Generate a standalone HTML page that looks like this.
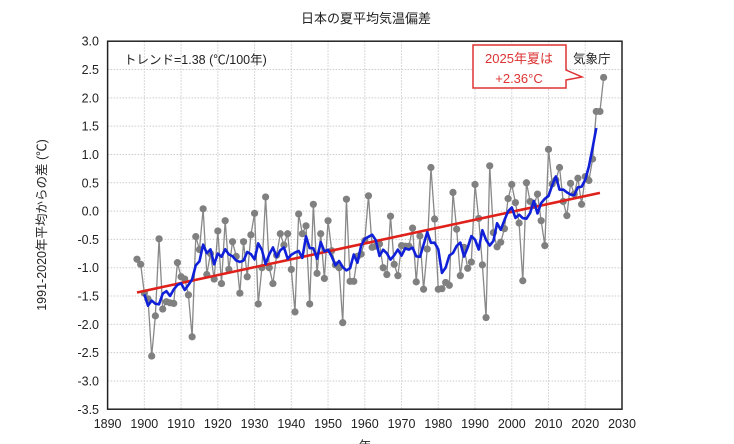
<!DOCTYPE html>
<html><head><meta charset="utf-8">
<style>
html,body{margin:0;padding:0;background:#fff;}
svg{display:block;font-family:"Liberation Sans","Noto Sans CJK JP",sans-serif;}
</style></head>
<body>
<svg id="chart" width="734" height="444" viewBox="0 0 734 444" xmlns="http://www.w3.org/2000/svg">
<text x="366" y="23" font-size="13" text-anchor="middle" fill="#222">日本の夏平均気温偏差</text>
<g id="grid"></g>
<g id="axes"></g>
<g id="marks"></g>
<rect x="107.6" y="41.2" width="514.4" height="368" fill="none" stroke="#222" stroke-width="1.5"/>
<text x="124" y="64" font-size="12.5" fill="#222">トレンド=1.38 (℃/100年)</text>
<g>
<path d="M473,45 H566 V70 L582,77 L566,80 V88 H473 Z" fill="#fff" stroke="#d33" stroke-width="1.5"/>
<text x="519" y="63" font-size="13" fill="#d33" text-anchor="middle">2025年夏は</text>
<text x="519" y="83" font-size="13" fill="#d33" text-anchor="middle">+2.36°C</text>
</g>
<text x="573" y="63" font-size="12.5" fill="#222">気象庁</text>
<text transform="translate(46,225) rotate(-90)" font-size="12.5" text-anchor="middle" fill="#222">1991-2020年平均からの差 (℃)</text>
<text x="365" y="450" font-size="12.5" text-anchor="middle" fill="#222">年</text>
</svg>
<script>
const startYear = 1898;
const anomalies = [-0.85,-0.94,-1.45,-1.55,-2.56,-1.85,-0.49,-1.73,-1.60,-1.62,-1.63,-0.91,-1.16,-1.20,-1.48,-2.22,-0.45,-0.68,0.04,-1.12,-0.75,-1.20,-0.35,-1.28,-0.17,-1.03,-0.54,-0.80,-1.45,-0.54,-1.16,-0.42,-0.04,-1.64,-1.00,0.25,-1.00,-1.28,-0.78,-0.40,-0.60,-0.40,-1.03,-1.78,-0.05,-0.40,-0.26,-1.64,0.12,-1.10,-0.40,-1.19,-0.17,-0.70,-0.95,-1.00,-1.97,0.21,-1.24,-1.24,-0.80,-0.76,-0.52,0.27,-0.64,-0.62,-0.58,-1.00,-1.12,-0.09,-0.94,-1.14,-0.61,-0.62,-0.62,-0.30,-1.25,-0.44,-1.38,-0.67,0.77,-0.14,-1.38,-1.37,-1.26,-1.31,0.33,-0.32,-1.14,-0.64,-1.01,-0.90,0.47,-0.13,-0.95,-1.88,0.80,-0.38,-0.63,-0.55,-0.31,0.22,0.47,0.15,-0.21,-1.23,0.50,0.17,0.10,0.30,-0.17,-0.61,1.09,0.48,0.55,0.77,0.17,-0.08,0.49,0.30,0.58,0.12,0.61,0.54,0.92,1.76,1.76,2.36];
const xTicks = [1890,1900,1910,1920,1930,1940,1950,1960,1970,1980,1990,2000,2010,2020,2030];
const yTicks = [3.0,2.5,2.0,1.5,1.0,0.5,0.0,-0.5,-1.0,-1.5,-2.0,-2.5,-3.0,-3.5];

const NS="http://www.w3.org/2000/svg";
const X0=107.6,X1=622,Y0=41.2,Y1=409.3;
const xs=y=>X0+(y-1890)/(2030-1890)*(X1-X0);
const ys=v=>Y0+(3-v)/(3-(-3.5))*(Y1-Y0);
function mk(tag,attrs,parent){const e=document.createElementNS(NS,tag);for(const k in attrs)e.setAttribute(k,attrs[k]);parent.appendChild(e);return e;}
const grid=document.getElementById('grid'),axes=document.getElementById('axes'),marks=document.getElementById('marks');
xTicks.forEach(t=>{
  const l=mk('line',{x1:xs(t),x2:xs(t),y1:Y0,y2:Y1,stroke:'#ccc','stroke-dasharray':'1.5,1.5','stroke-width':1},grid);
  
  
  const tx=mk('text',{x:xs(t),y:428,'font-size':12.5,'text-anchor':'middle',fill:'#222'},axes);
  tx.textContent=t;
  
  
});
yTicks.forEach(t=>{
  const l=mk('line',{x1:X0,x2:X1,y1:ys(t),y2:ys(t),stroke:'#ccc','stroke-dasharray':'1.5,1.5','stroke-width':1},grid);
  
  
  const tx=mk('text',{x:99,y:ys(t)+4.5,'font-size':12.5,'text-anchor':'end',fill:'#222'},axes);
  tx.textContent=t.toFixed(1);
  
  
});
const years=anomalies.map((_,i)=>startYear+i);
// trend (least squares)
const n=years.length,mx=years.reduce((a,b)=>a+b)/n,my=anomalies.reduce((a,b)=>a+b)/n;
let sxy=0,sxx=0;years.forEach((y,i)=>{sxy+=(y-mx)*(anomalies[i]-my);sxx+=(y-mx)*(y-mx);});
const slope=sxy/sxx,icpt=my-slope*mx;
// annual line
const ann=mk('polyline',{points:years.map((y,i)=>xs(y)+','+ys(anomalies[i])).join(' '),fill:'none',stroke:'#888','stroke-width':1.3},marks);


years.forEach((y,i)=>{
  const c=mk('circle',{cx:xs(y),cy:ys(anomalies[i]),r:3.6,fill:'#808080'},marks);
  
  
});
const ty0=startYear,ty1=2024;
const tr=mk('line',{x1:xs(ty0),y1:ys(icpt+slope*ty0),x2:xs(ty1),y2:ys(icpt+slope*ty1),stroke:'#e0201a','stroke-width':2.6},marks);


// 5-year running mean
const rm=[];
for(let i=2;i<n-2;i++){let s=0;for(let k=-2;k<=2;k++)s+=anomalies[i+k];rm.push(xs(years[i])+','+ys(s/5));}
const rl=mk('polyline',{points:rm.join(' '),fill:'none',stroke:'#1020d8','stroke-width':2.6,'stroke-linejoin':'round'},marks);


</script>
</body></html>
